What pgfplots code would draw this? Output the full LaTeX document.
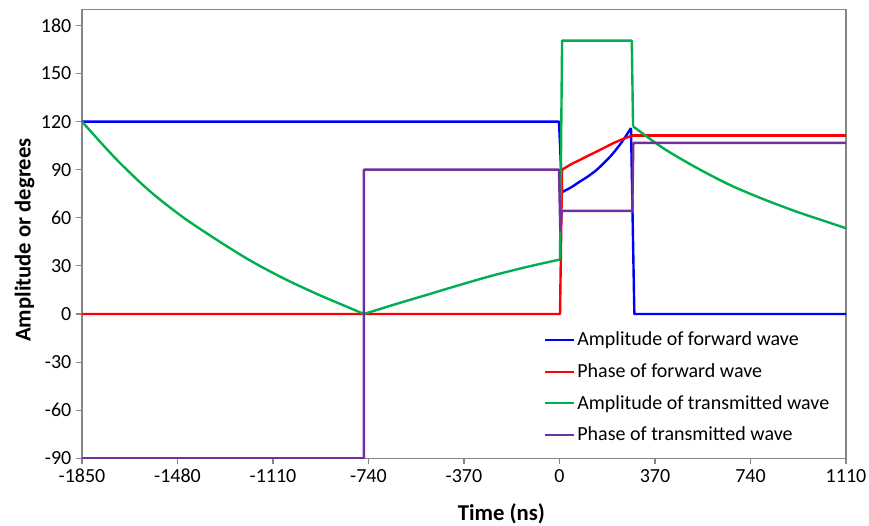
\documentclass[border=0pt]{standalone}
\usepackage{pgfplots}
\pgfplotsset{compat=1.18}
\usepackage{fontspec}
\setmainfont{Carlito}
\definecolor{cblue}{RGB}{0,0,255}
\definecolor{cred}{RGB}{255,0,0}
\definecolor{cgreen}{RGB}{0,176,80}
\definecolor{cpurple}{RGB}{112,48,160}
\definecolor{axgray}{RGB}{134,134,134}
\begin{document}
\begin{tikzpicture}
\begin{axis}[
  name=ax,
  scale only axis,
  width=573pt, height=336.75pt,
  xmin=-1850, xmax=1110,
  ymin=-90, ymax=190,
  xtick={-1850,-1480,-1110,-740,-370,0,370,740,1110},
  ytick={-90,-60,-30,0,30,60,90,120,150,180},
  tick align=outside,
  tick pos=left,
  major tick length=4.5pt,
  axis line style={axgray, line width=0.9pt},
  tick style={axgray, line width=0.8pt},
  /pgf/number format/assume math mode=true,
  /pgf/number format/.cd, 1000 sep={}, /pgfplots/.cd,
  ticklabel style={font=\fontsize{15}{18}\selectfont, text=black},
  xlabel={\textbf{Time (ns)}},
  ylabel={\textbf{Amplitude or degrees}},
  label style={font=\fontsize{17}{20}\selectfont},
  xlabel style={at={(ticklabel cs:0.549)}, yshift=-9pt},
  ylabel style={at={(ticklabel cs:0.486)}, yshift=-2pt},
  legend style={draw=none, fill=none, at={(0.599,0.022)}, anchor=south west,
    font=\fontsize{15}{18}\selectfont, row sep=7.8pt, cells={anchor=west}},
  legend image code/.code={\draw[#1] (0pt,0pt) -- (17pt,0pt); \path (0pt,0pt) -- (21.5pt,0pt);},
  every axis plot/.append style={line width=1.8pt, line join=round},
]
% blue: amplitude of forward wave
\addplot[cblue, forget plot] coordinates {(-1850,120) (-2,120) (10,76)};
\addplot[cblue, forget plot, smooth] coordinates {
(10,76) (45,79) (79,82.6) (112,86) (144,89.9) (176,94.8) (208,100.3) (243,107.6) (277,116)};
\addplot[cblue, forget plot] coordinates {(277,116) (290,0) (1110,0)};
% red: phase of forward wave
\addplot[cred, forget plot] coordinates {(-1850,0) (2,0) (10,90)};
\addplot[cred, forget plot, smooth] coordinates {
(10,90) (45,93.4) (79,96.1) (112,98.8) (144,101.3) (176,103.9) (208,106.5) (243,108.9) (280,111.2)};
\addplot[cred, forget plot] coordinates {(280,111.2) (1110,111.2)};
% green: amplitude of transmitted wave
\addplot[cgreen, forget plot, smooth] coordinates {
(-1850,120) (-1720,97) (-1590,77) (-1460,60.5) (-1330,46.5) (-1200,33.5)
(-1070,22.3) (-940,12.5) (-810,3.6) (-758,0)};
\addplot[cgreen, forget plot, smooth] coordinates {
(-758,0) (-640,5.9) (-515,11.9) (-385,18.2) (-257,24.1) (-128,29.3) (2,34)};
\addplot[cgreen, forget plot] coordinates {(2,34) (10,170.5) (280,170.5) (285,117)};
\addplot[cgreen, forget plot, smooth] coordinates {
(285,117) (402,103.4) (530,91.3) (660,80.5) (790,71.6) (919,63.8) (1015,58.6) (1110,53.5)};
% purple: phase of transmitted wave
\addplot[cpurple, forget plot] coordinates {
(-1850,-90) (-758,-90) (-758,90) (-2,90) (3,52) (9,64.3) (282,64.3) (286,106.7)
(1110,106.7)};
\addlegendimage{cblue, line width=1.6pt}
\addlegendentry{Amplitude of forward wave}
\addlegendimage{cred, line width=1.6pt}
\addlegendentry{Phase of forward wave}
\addlegendimage{cgreen, line width=1.6pt}
\addlegendentry{Amplitude of transmitted wave}
\addlegendimage{cpurple, line width=1.6pt}
\addlegendentry{Phase of transmitted wave}
\end{axis}
\pgfresetboundingbox
\path[use as bounding box] ([xshift=-61.5pt, yshift=-50.1pt]ax.south west) rectangle ([xshift=17.25pt, yshift=7pt]ax.north east);
\end{tikzpicture}
\end{document}
